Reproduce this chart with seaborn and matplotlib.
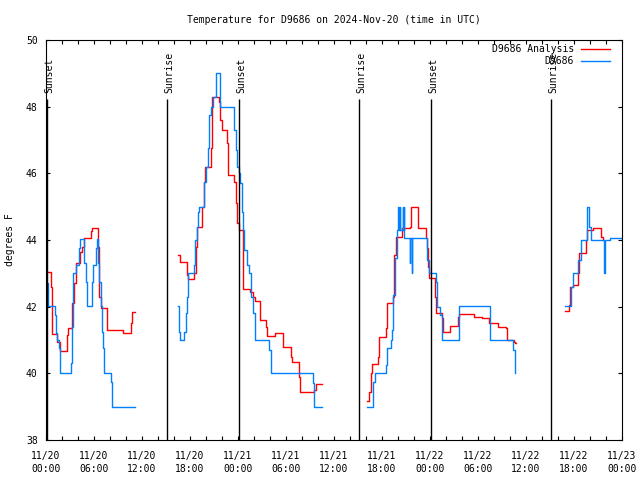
import pandas as pd
import numpy as np
import matplotlib.pyplot as plt
import matplotlib.dates as mdates
import seaborn as sns

# hours after 2024-11-20 00:00 UTC, temperature in F (step data)
ana_h1 = [0.08, 0.58, 0.79, 1.42, 1.71, 2.58, 2.75, 3.29, 3.5, 3.79, 4.25, 4.54, 4.75, 5.58, 5.79, 6.54, 6.63, 6.92, 7.58, 9.67, 10.58, 10.71, 11.08]
ana_t1 = [43.05, 42.6, 41.18, 40.95, 40.67, 41.15, 41.37, 42.1, 42.7, 43.3, 43.65, 43.8, 44.05, 44.27, 44.35, 43.8, 42.3, 41.95, 41.3, 41.2, 41.5, 41.85, 41.85]
ana_h2 = [16.54, 16.75, 17.58, 17.75, 18.54, 18.71, 18.83, 19.54, 19.75, 19.88, 20.58, 20.71, 21.63, 21.75, 21.96, 22.58, 22.79, 23.5, 23.75, 23.92, 24.08, 24.58, 25.5, 25.92, 26.17, 26.75, 27.5, 27.67, 28.58, 29.58, 30.58, 30.79, 31.6, 31.75, 33.5, 33.75, 34.5]
ana_t2 = [43.54, 43.35, 42.95, 42.82, 43.0, 43.8, 44.4, 45.0, 45.75, 46.2, 46.75, 48.3, 48.15, 47.6, 47.3, 46.9, 45.95, 45.75, 45.1, 44.5, 44.3, 42.52, 42.45, 42.3, 42.17, 41.6, 41.4, 41.12, 41.2, 40.8, 40.5, 40.35, 39.9, 39.45, 39.5, 39.67, 39.67]
ana_h3 = [40.17, 40.42, 40.58, 40.71, 41.46, 41.67, 42.46, 42.58, 43.42, 43.54, 43.71, 44.54, 45.5, 45.58, 46.5, 47.5, 47.67, 47.79, 47.92, 48.63, 48.71, 49.46, 49.58, 50.54, 51.54, 51.67, 53.54, 54.54, 55.42, 56.46, 57.46, 57.58, 58.46, 58.63, 58.75]
ana_t3 = [39.18, 39.45, 40.0, 40.27, 40.5, 41.1, 41.35, 42.1, 42.3, 43.55, 44.1, 44.35, 44.4, 45.0, 44.35, 44.05, 43.75, 43.2, 42.85, 42.3, 41.8, 41.65, 41.25, 41.42, 41.7, 41.77, 41.7, 41.65, 41.5, 41.4, 41.35, 41.0, 40.95, 40.9, 40.9]
ana_h4 = [64.92, 65.38, 65.5, 65.83, 66.46, 66.63, 67.46, 67.58, 68.42, 69.42, 69.58, 69.75]
ana_t4 = [41.88, 42.05, 42.6, 42.65, 43.0, 43.6, 44.0, 44.3, 44.35, 44.1, 44.0, 44.0]

obs_h1 = [0.08, 0.12, 0.17, 0.25, 1.08, 1.29, 1.42, 1.63, 1.75, 3.08, 3.21, 3.42, 3.79, 4.13, 4.25, 4.79, 4.96, 5.08, 5.79, 5.92, 6.21, 6.33, 6.46, 6.63, 6.83, 7.04, 7.17, 7.29, 8.13, 8.29, 11.08]
obs_t1 = [42.7, 42.3, 42.7, 42.02, 41.75, 41.2, 41.0, 40.75, 40.0, 40.3, 41.4, 43.0, 43.25, 43.75, 44.02, 43.3, 42.75, 42.02, 42.75, 43.25, 43.75, 44.02, 43.3, 42.75, 42.02, 41.25, 40.75, 40.0, 39.75, 39.0, 39.0]
obs_h2 = [16.54, 16.67, 16.75, 17.29, 17.5, 17.67, 17.79, 18.54, 18.67, 18.83, 19.04, 19.17, 19.75, 20.0, 20.29, 20.42, 20.58, 20.92, 21.25, 21.75, 23.5, 23.75, 23.92, 24.08, 24.25, 24.46, 24.58, 24.75, 25.08, 25.38, 25.58, 25.92, 26.13, 27.92, 28.08, 33.33, 33.54, 34.5]
obs_t2 = [42.02, 41.25, 41.0, 41.25, 41.8, 42.3, 43.0, 43.25, 44.0, 44.4, 44.85, 45.0, 45.75, 46.2, 46.75, 47.75, 48.0, 48.3, 49.02, 48.0, 47.3, 46.7, 46.2, 46.0, 45.7, 44.85, 44.3, 43.7, 43.25, 43.0, 42.3, 41.8, 41.0, 40.7, 40.0, 39.7, 39.0, 39.0]
obs_h3 = [40.17, 40.92, 41.13, 42.5, 42.58, 43.13, 43.29, 43.42, 43.63, 43.83, 44.04, 44.08, 44.25, 44.29, 44.58, 44.63, 44.75, 44.79, 45.48, 45.52, 45.69, 45.73, 47.58, 47.88, 48.71, 48.92, 49.25, 49.46, 51.67, 55.5, 58.42, 58.58, 58.63]
obs_t3 = [38.98, 39.75, 40.0, 40.25, 40.75, 41.0, 41.3, 42.35, 43.45, 44.3, 45.0, 44.3, 45.0, 44.3, 45.0, 44.3, 45.0, 44.05, 43.3, 44.05, 43.0, 44.05, 43.4, 43.0, 42.75, 42.0, 41.75, 41.0, 42.02, 41.0, 40.7, 40.0, 40.0]
obs_h4 = [64.92, 65.63, 65.83, 66.54, 66.83, 67.58, 67.92, 68.08, 69.75, 69.88, 70.5, 72.0]
obs_t4 = [42.02, 42.6, 43.0, 43.4, 44.0, 45.0, 44.4, 44.0, 43.0, 44.0, 44.05, 44.05]

sun_h = [0.17, 15.17, 24.17, 39.17, 48.15, 63.17]
sun_lbl = ['Sunset', 'Sunrise', 'Sunset', 'Sunrise', 'Sunset', 'Sunrise']

plt.rcParams['font.family'] = 'DejaVu Sans Mono'
plt.rcParams['font.size'] = 7

start = pd.Timestamp('2024-11-20')

frames = []
series = [('D9686 Analysis', [(ana_h1, ana_t1), (ana_h2, ana_t2), (ana_h3, ana_t3), (ana_h4, ana_t4)]),
          ('D9686', [(obs_h1, obs_t1), (obs_h2, obs_t2), (obs_h3, obs_t3), (obs_h4, obs_t4)])]
for name, segs in series:
    for i, (h, t) in enumerate(segs):
        frames.append(pd.DataFrame({'time': start + pd.to_timedelta(h, unit='h'),
                                    'temp': t, 'series': name, 'seg': i}))
df = pd.concat(frames, ignore_index=True)

fig = plt.figure(figsize=(6.4, 4.8), dpi=100)
ax = fig.add_axes([46/640, 40/480, 576/640, 400/480])

sns.lineplot(data=df, x='time', y='temp', hue='series', units='seg', estimator=None,
             sort=False, hue_order=['D9686 Analysis', 'D9686'],
             palette={'D9686 Analysis': '#ff0000', 'D9686': '#0080ff'},
             drawstyle='steps-post', linewidth=1.0, ax=ax)

# sunrise / sunset markers
sun_t = start + pd.to_timedelta(sun_h, unit='h')
ax.vlines(sun_t, 38, 48.23, colors='black', linewidth=1.0)
for t, lbl in zip(sun_t, sun_lbl):
    ax.text(t + pd.Timedelta(hours=0.25), 48.42, lbl, rotation=90, ha='center', va='bottom')

ax.set_xlim(start, start + pd.Timedelta(hours=72))
ax.set_ylim(38, 50)
ax.set_yticks(range(38, 51, 2))
ax.xaxis.set_major_locator(mdates.HourLocator(byhour=[0, 6, 12, 18]))
ax.xaxis.set_major_formatter(mdates.DateFormatter('%m/%d\n%H:%M'))
ax.xaxis.set_minor_locator(mdates.HourLocator(byhour=range(0, 24, 2)))
ax.tick_params(which='both', direction='in', top=True, right=True, length=3, width=0.8, colors='black')
ax.tick_params(axis='x', pad=8)
ax.tick_params(axis='y', pad=6)
for lbl in ax.get_xticklabels():
    lbl.set_linespacing(1.3)
ax.set_xlabel('')
ax.set_ylabel('')
for s in ax.spines.values():
    s.set_color('black')
    s.set_linewidth(0.8)

sns.move_legend(ax, 'upper right', bbox_to_anchor=(0.979, 0.99), markerfirst=False,
                frameon=False, title=None, handlelength=3.0, handletextpad=0.7,
                labelspacing=0.25, borderaxespad=0, borderpad=0, fontsize=7)

fig.text(334/640, 1 - 20/480, 'Temperature for D9686 on 2024-Nov-20 (time in UTC)',
         ha='center', va='center')
fig.text(10/640, 0.5, 'degrees F', rotation=90, ha='center', va='center')

fig.savefig('out.png', dpi=100)
